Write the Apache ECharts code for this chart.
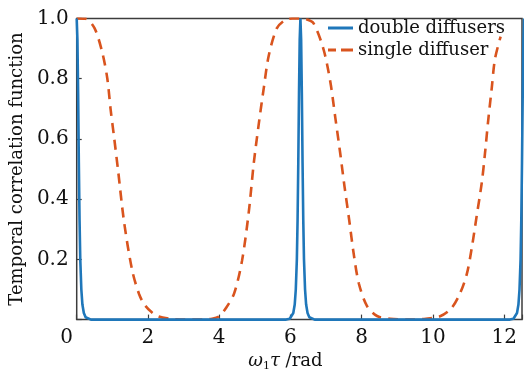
<!DOCTYPE html>
<html>
<head>
<meta charset="utf-8">
<script src="https://cdn.jsdelivr.net/npm/echarts@6/dist/echarts.min.js"></script>
<style>
  html, body { margin: 0; padding: 0; background: #fff; }
  #chart { width: 525px; height: 377px; }
</style>
</head>
<body>
<div id="chart"></div>
<script>
// values
var seriesNames = ["double diffusers", "single diffuser"];

var doubleX = [0, 0.02, 0.04, 0.06, 0.08, 0.1, 0.13, 0.16, 0.2, 0.25, 0.3, 0.4,
    3.14,
    5.88, 5.98, 6.03, 6.08, 6.12, 6.15, 6.18, 6.2, 6.22, 6.24, 6.26, 6.28,
    6.3, 6.32, 6.34, 6.36, 6.38, 6.41, 6.44, 6.48, 6.53, 6.58, 6.68,
    9.42,
    12.16, 12.26, 12.31, 12.36, 12.4, 12.43, 12.46, 12.48, 12.5, 12.52, 12.54, 12.56];
var doubleY = [1, 0.93, 0.75, 0.52, 0.33, 0.2, 0.1, 0.05, 0.022, 0.008, 0.003, 0,
    0,
    0, 0.003, 0.008, 0.022, 0.05, 0.1, 0.2, 0.33, 0.52, 0.75, 0.93, 1,
    0.93, 0.75, 0.52, 0.33, 0.2, 0.1, 0.05, 0.022, 0.008, 0.003, 0,
    0,
    0, 0.003, 0.008, 0.022, 0.05, 0.1, 0.2, 0.33, 0.52, 0.75, 0.93, 1];

var singleX = [0, 0.25, 0.5, 0.72, 0.86, 0.95, 1.05, 1.16, 1.33, 1.56, 1.75, 1.9, 2.1, 2.3, 2.6, 3.0,
    3.5, 3.8, 4.0, 4.2, 4.42, 4.64, 4.83, 4.97, 5.11, 5.25, 5.39, 5.62, 5.85, 6.05,
    6.3, 6.45, 6.65, 6.93, 7.12, 7.26, 7.4, 7.52, 7.65, 7.78, 7.92, 8.15, 8.43, 8.8, 9.3,
    9.8, 10.2, 10.52, 10.76, 10.95, 11.09, 11.23, 11.37, 11.46, 11.55, 11.65, 11.74, 11.9];
var singleY = [1, 0.999, 0.968, 0.886, 0.8, 0.7, 0.605, 0.497, 0.324, 0.162, 0.085, 0.05, 0.025, 0.01, 0.003, 0,
    0, 0.003, 0.011, 0.04, 0.087, 0.195, 0.357, 0.519, 0.649, 0.768, 0.876, 0.968, 0.995, 1,
    1, 0.997, 0.984, 0.897, 0.789, 0.67, 0.55, 0.44, 0.33, 0.215, 0.12, 0.045, 0.012, 0.003, 0,
    0.003, 0.011, 0.038, 0.087, 0.151, 0.238, 0.346, 0.454, 0.551, 0.66, 0.768, 0.865, 0.94];

var xTicks = [0, 2, 4, 6, 8, 10, 12];
var yTicks = [0.2, 0.4, 0.6, 0.8, 1.0];

var blue = "#1f77ba";
var orange = "#d9541e";
var serif = "DejaVu Serif";

function pairs(xs, ys) {
    var out = [];
    for (var i = 0; i < xs.length; i++) {
        out.push([xs[i], ys[i]]);
    }
    return out;
}

var myChart = echarts.init(document.getElementById("chart"));

myChart.setOption({
    backgroundColor: "#fff",
    animation: false,
    grid: {
        left: 75.5, right: 3, top: 18.5, bottom: 50,
        show: true, borderColor: "#3c3c3c", borderWidth: 1.5
    },
    legend: {
        orient: "vertical",
        left: 328, top: 18,
        padding: 0,
        itemWidth: 25, itemHeight: 3, itemGap: 2,
        textStyle: { fontFamily: serif, fontSize: 18, color: "#111", lineHeight: 20 },
        data: [
            { name: seriesNames[0], icon: "path://M0,0H25V3H0Z", itemStyle: { color: blue } },
            { name: seriesNames[1], icon: "path://M0,0H8V3H0ZM13,0H25V3H13Z", itemStyle: { color: orange } }
        ]
    },
    xAxis: {
        type: "value",
        min: 0, max: 12.5, interval: 2,
        name: "{w|ω}{s|1}{w|τ} /rad",
        nameLocation: "middle",
        nameGap: 26,
        nameTextStyle: {
            fontFamily: serif, fontSize: 18, color: "#111",
            padding: [0, 28, 0, 0],
            rich: {
                w: { fontFamily: serif, fontSize: 18, fontStyle: "italic", color: "#111" },
                s: { fontFamily: serif, fontSize: 11, color: "#111", verticalAlign: "bottom", padding: [10, 0, 0, 0] }
            }
        },
        axisLine: { show: false },
        axisTick: { inside: true, length: 5, lineStyle: { color: "#3c3c3c", width: 1.2 } },
        splitLine: { show: false },
        axisLabel: {
            margin: 8,
            fontFamily: serif, fontSize: 20, color: "#111",
            formatter: function (v) {
                if (xTicks.indexOf(v) < 0) return "";
                if (v === 0) return "{z|0}";
                return String(v);
            },
            rich: {
                z: { fontFamily: serif, fontSize: 20, color: "#111", padding: [0, 20, 0, 0] }
            }
        }
    },
    yAxis: {
        type: "value",
        min: 0, max: 1, interval: 0.2,
        name: "Temporal correlation function",
        nameLocation: "middle",
        nameGap: 44,
        nameTextStyle: { fontFamily: serif, fontSize: 18, color: "#111" },
        axisLine: { show: false },
        axisTick: { inside: true, length: 5, lineStyle: { color: "#3c3c3c", width: 1.2 } },
        splitLine: { show: false },
        axisLabel: {
            margin: 8,
            fontFamily: serif, fontSize: 20, color: "#111",
            formatter: function (v) {
                for (var i = 0; i < yTicks.length; i++) {
                    if (Math.abs(yTicks[i] - v) < 1e-6) return yTicks[i].toFixed(1);
                }
                return "";
            }
        }
    },
    series: [{
        name: seriesNames[0],
        type: "line",
        data: pairs(doubleX, doubleY),
        symbol: "none",
        clip: true,
        z: 3,
        lineStyle: { color: blue, width: 2.6 },
        itemStyle: { color: blue }
    }, {
        name: seriesNames[1],
        type: "line",
        data: pairs(singleX, singleY),
        symbol: "none",
        smooth: 0.3,
        clip: true,
        z: 2,
        lineStyle: { color: orange, width: 2.6, type: [10, 7] },
        itemStyle: { color: orange }
    }]
});
</script>
</body>
</html>
